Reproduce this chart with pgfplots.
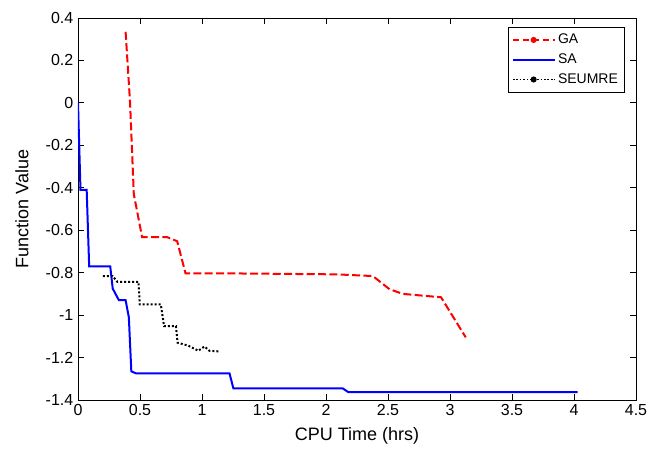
\documentclass[border=0pt]{standalone}
\usepackage{pgfplots}
\pgfplotsset{compat=1.18}
\usepackage{fontspec}
\setmainfont{Liberation Sans}

\begin{document}
\begin{tikzpicture}
  \begin{axis}[
    name=main,
    scale only axis,
    width=418.5pt, height=286.5pt,
    xmin=0, xmax=4.5, ymin=-1.4, ymax=0.4,
    xtick={0,0.5,...,4.5},
    ytick={-1.4,-1.2,-1,-0.8,-0.6,-0.4,-0.2,0,0.2,0.4},
    tick align=inside,
    major tick length=4.5pt,
    tick style={black, line width=0.6pt},
    axis line style={line width=0.6pt},
    /pgf/number format/assume math mode=true,
    ticklabel style={font=\fontsize{12}{14}\selectfont},
    label style={font=\fontsize{13.5}{16}\selectfont},
    xlabel={CPU Time (hrs)},
    ylabel={Function Value},
    xlabel style={at={([yshift=-27pt]axis description cs:0.5,0)}, anchor=center},
    ylabel style={at={([xshift=-42pt]axis description cs:0,0.5)}, anchor=center},
    legend style={at={(rel axis cs:1,1)}, anchor=north east,
      xshift=-8.25pt, yshift=-6.75pt,
      font=\fontsize{10.5}{12}\selectfont, draw=black, line width=0.6pt,
      row sep=2pt, inner sep=3pt},
    legend cell align=left,
    legend image code/.code={\draw[mark repeat=2, mark phase=2, #1]
      plot coordinates {(0cm,0cm) (0.55cm,0cm) (1.1cm,0cm)};},
  ]

  % GA
  \addplot[red, line width=1.5pt, dash pattern=on 6pt off 2.5pt, forget plot] coordinates {
    (0.384,0.335) (0.42,0) (0.45,-0.43) (0.517,-0.633) (0.72,-0.633)
    (0.80,-0.652) (0.867,-0.803) (1.144,-0.803) (2.084,-0.808)
    (2.378,-0.816) (2.512,-0.878) (2.62,-0.9) (2.928,-0.916) (3.127,-1.105)
  };

  % SA
  \addplot[blue, line width=1.5pt, forget plot] coordinates {
    (0,0) (0.02,-0.41) (0.07,-0.41) (0.09,-0.77) (0.26,-0.77)
    (0.28,-0.875) (0.33,-0.93) (0.384,-0.93) (0.41,-1.01) (0.43,-1.265)
    (0.47,-1.275) (1.222,-1.275) (1.253,-1.345) (2.134,-1.345)
    (2.18,-1.363) (4.03,-1.363)
  };

  % SEUMRE
  \addplot[black, line width=1.5pt, dash pattern=on 1.5pt off 1.5pt, forget plot] coordinates {
    (0.20,-0.816) (0.28,-0.816) (0.317,-0.843) (0.488,-0.843) (0.498,-0.95)
    (0.668,-0.95) (0.694,-1.052) (0.79,-1.052) (0.803,-1.13) (0.89,-1.144)
    (0.97,-1.168) (1.02,-1.148) (1.06,-1.168) (1.136,-1.171)
  };

  \addlegendimage{red, line width=1.3pt, dash pattern=on 5pt off 2.5pt, mark=*, mark size=1.6pt, mark options={solid}}
  \addlegendentry{GA}
  \addlegendimage{blue, line width=1.3pt}
  \addlegendentry{SA}
  \addlegendimage{black, line width=1.3pt, dash pattern=on 1.3pt off 1.3pt, mark=*, mark size=1.6pt, mark options={solid}}
  \addlegendentry{SEUMRE}

  \end{axis}
  \useasboundingbox ([shift={(-58.5pt,-34.5pt)}]main.south west)
    rectangle ([shift={(15.75pt,13.5pt)}]main.north east);
\end{tikzpicture}
\end{document}
